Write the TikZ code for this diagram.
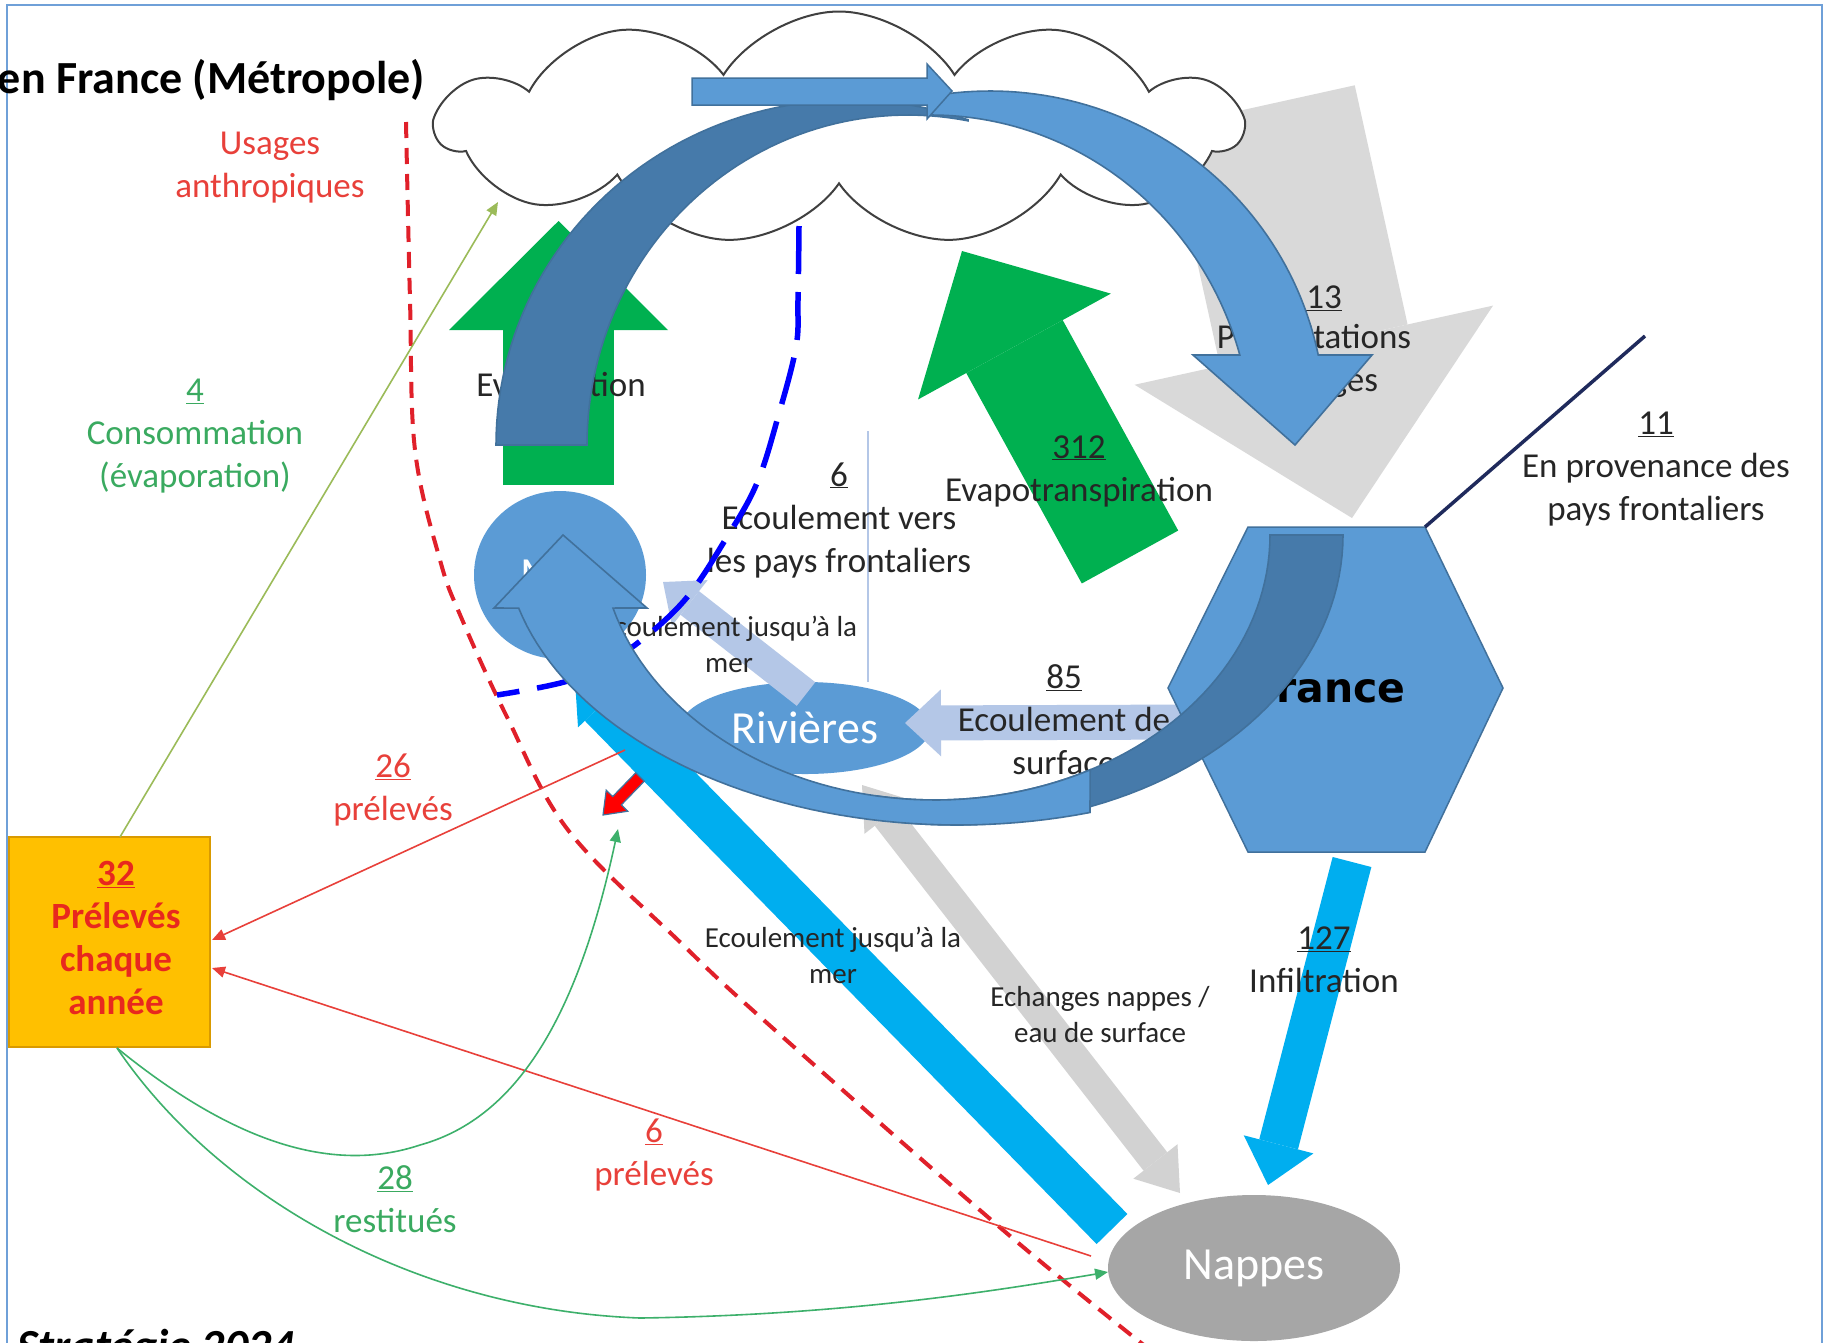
\documentclass[tikz,border=0pt]{standalone}
\usepackage{fontspec}
\setmainfont{Carlito}
\newfontfamily\hexfont{DejaVu Sans}
\usetikzlibrary{arrows.meta,shapes.geometric,shapes.symbols}

\definecolor{pblue}{HTML}{5B9BD5}
\definecolor{pblueline}{HTML}{41719C}
\definecolor{arcdark}{HTML}{467AAA}
\definecolor{cyanflow}{HTML}{00AEEF}
\definecolor{evgreen}{HTML}{00B050}
\definecolor{peri}{HTML}{B4C7E7}
\definecolor{lgray}{HTML}{D9D9D9}
\definecolor{egray}{HTML}{D2D2D2}
\definecolor{ngray}{HTML}{A6A6A6}
\definecolor{gold}{HTML}{FFC000}
\definecolor{goldline}{HTML}{D99A00}
\definecolor{redtxt}{HTML}{E8403A}
\definecolor{reddash}{HTML}{E0202A}
\definecolor{boxred}{HTML}{E8281E}
\definecolor{greentxt}{HTML}{3AAA60}
\definecolor{olive}{HTML}{9BBB59}
\definecolor{restgreen}{HTML}{3DB06B}
\definecolor{txt}{HTML}{262626}
\definecolor{navy}{HTML}{1F2A5C}
\definecolor{framecol}{HTML}{6FA0D8}
\definecolor{dashblue}{HTML}{0000FF}
\definecolor{cloudline}{HTML}{404040}

\tikzset{
  lbl/.style={text=txt, align=center, inner sep=0pt, font=\fontsize{35}{43}\selectfont},
  smalllbl/.style={lbl, font=\fontsize{29}{36}\selectfont},
  redlbl/.style={lbl, text=redtxt},
  greenlbl/.style={lbl, text=greentxt},
  boxtxt/.style={lbl, text=boxred, font=\bfseries\fontsize{37}{43}\selectfont},
  whitelbl/.style={text=white, inner sep=0pt, font=\fontsize{46}{50}\selectfont},
  blockflow/.style n args={3}{line width=#1, -{Triangle[width=#2,length=#3,line width=0pt]}},
  dblflow/.style n args={3}{line width=#1, {Triangle[width=#2,length=#3,line width=0pt]}-{Triangle[width=#2,length=#3,line width=0pt]}},
  thinarrow/.style={line width=1.6pt, -{Triangle[width=11pt,length=13pt]}},
  backpart/.style={fill=arcdark, draw=pblueline, line width=1.6pt},
  frontpart/.style={fill=pblue, draw=pblueline, line width=1.6pt}
}

\begin{document}
\begin{tikzpicture}[x=1pt,y=-1pt]
\useasboundingbox (0,0) rectangle (1827,1342);
\clip (0,0) rectangle (1827,1342);
\fill[white] (0,0) rectangle (1827,1342);
\draw[framecol, line width=2.5pt] (7,5) rectangle (1822,1400);

% precipitation (grey block arrow, partly behind the cloud)
\coordinate (pTop) at (1261,106);
\coordinate (pTip) at (1352,518);
\draw[lgray, blockflow={192pt}{367pt}{177pt}] (pTop) -- (pTip);

% cloud
\node[cloud, draw=cloudline, fill=white, line width=2pt, cloud puffs=11, cloud puff arc=115,
      aspect=3.4, minimum width=804pt, minimum height=233pt, inner sep=0pt] (cloud) at (839,128) {};

% evaporation and evapotranspiration
\coordinate (evBot) at (558.5,485);
\coordinate (evTip) at (558.5,221);
\draw[evgreen, blockflow={111pt}{219pt}{109pt}] (evBot) -- (evTip);
\coordinate (etBot) at (1130,557);
\coordinate (etTip) at (962,251);
\draw[evgreen, blockflow={110pt}{220pt}{109pt}] (etBot) -- (etTip);

% reservoirs
\node[ellipse, fill=pblue, minimum width=172pt, minimum height=168pt, inner sep=0pt, whitelbl] (mer) at (560,575) {Mer};
\node[ellipse, fill=pblue, minimum width=250pt, minimum height=92pt, inner sep=0pt, whitelbl] (riv) at (805,728) {Rivières};
\node[ellipse, fill=ngray, minimum width=292pt, minimum height=146pt, inner sep=0pt, whitelbl] (nappes) at (1254,1268) {Nappes};

% flows between reservoirs
\coordinate (cyBot) at (1112,1229);
\coordinate (cyTip) at (575,680);
\draw[cyanflow, blockflow={43pt}{62pt}{36pt}] (cyBot) -- (cyTip);
\coordinate (inTop) at (1352,862);
\coordinate (inTip) at (1268,1185);
\draw[cyanflow, blockflow={40pt}{72pt}{42pt}] (inTop) -- (inTip);
\coordinate (exTop) at (862,785);
\coordinate (exBot) at (1180,1193);
\draw[egray, dblflow={30pt}{56pt}{40pt}] (exTop) -- (exBot);
\coordinate (sfStart) at (1200,722);
\coordinate (sfTip) at (905,723);
\draw[peri, blockflow={35pt}{67pt}{36pt}] (sfStart) -- (sfTip);
\coordinate (rmStart) at (806,694);
\coordinate (rmTip) at (663,582);
\draw[peri, blockflow={30pt}{58pt}{34pt}] (rmStart) -- (rmTip);

% France hexagon
\draw[fill=pblue, draw=pblueline, line width=1.5pt]
  (1248,527) coordinate (hexTL) -- (1425,527) coordinate (hexTR) -- (1503,688) -- (1425,852)
  -- (1248,852) -- (1168,688) -- cycle;
\node[anchor=base, inner sep=0pt, font=\hexfont\bfseries\fontsize{41}{45}\selectfont, text=black] (france) at (1328,702) {France};

% border lines
\coordinate (navyEnd) at (1645,336);
\draw[navy, line width=3.5pt] (hexTR) -- (navyEnd);
\coordinate (vTop) at (868,431);
\coordinate (vBot) at (868,682);
\draw[peri, line width=2pt] (vTop) -- (vBot);

% abstraction box
\node[rectangle, fill=gold, draw=goldline, line width=1.5pt, minimum width=201pt, minimum height=210pt, inner sep=0pt] (box) at (109.5,942) {};
\node[boxtxt] (boxlbl) at (116,938) {\underline{32}\\Prélevés\\chaque\\année};

% labels
\node[anchor=base east, inner sep=0pt, font=\bfseries\fontsize{46}{50}\selectfont, text=black] (title) at (425,93) {en France (Métropole)};
\node[anchor=base west, inner sep=0pt, font=\bfseries\itshape\fontsize{46}{50}\selectfont, text=black] (source) at (17,1361) {Stratégie 2024};
\node[redlbl] (usages) at (270,168) {Usages\\anthropiques};
\node[greenlbl] (conso) at (195,436) {\underline{4}\\Consommation\\(évaporation)};
\node[redlbl] (p26) at (393,790) {\underline{26}\\prélevés};
\node[redlbl] (p6) at (654,1155) {\underline{6}\\prélevés};
\node[greenlbl] (rest) at (395,1199) {\underline{28}\\restitués};
\node[smalllbl] (merlow) at (833,955) {Ecoulement jusqu’à la\\mer};
\node[smalllbl] (echg) at (1100,1015) {Echanges nappes /\\eau de surface};
\node[lbl] (infil) at (1324,960) {\underline{127}\\Infiltration};
\node[lbl] (evap) at (561,387) {Evaporation};
\node[lbl] (evt) at (1079,471) {\underline{312}\\Evapotranspiration};
\node[lbl] (precipnum) at (1324,298) {\underline{13}};
\node[lbl] (precip) at (1314,361) {Précipitations\\et neiges};
\node[lbl] (front) at (1656,469) {\underline{11}\\En provenance des\\pays frontaliers};
\node[lbl] (surf) at (1064,720) {\underline{85}\\Ecoulement de\\surface};
\node[smalllbl] (merup) at (729,644) {Ecoulement jusqu’à la\\mer};
\node[lbl] (vers) at (839,520) {\underline{6}\\Ecoulement vers\\les pays frontaliers};

% limit of human uses
\draw[reddash, line width=4pt, dash pattern=on 16pt off 10pt]
  plot[smooth, tension=0.6] coordinates {(406,122) (410,300) (415,450) (440,560) (461,617) (507,717) (568,830) (681,943) (767,1023) (1003,1230) (1150,1350)};

% abstractions and returns
\coordinate (consStart) at (120,837);
\coordinate (consEnd) at (498,202);
\draw[olive, thinarrow] (consStart) -- (consEnd);
\coordinate (rivTake) at (625,750);
\coordinate (boxIn1) at (212,940);
\draw[redtxt, thinarrow] (rivTake) -- (boxIn1);
\coordinate (napTake) at (1091,1256);
\coordinate (boxIn2) at (212,968);
\draw[redtxt, thinarrow] (napTake) -- (boxIn2);
\coordinate (boxOut) at (117,1048);
\coordinate (retRiv) at (618,829);
\coordinate (retNap) at (1108,1272);
\draw[restgreen, thinarrow] (boxOut) .. controls (230,1140) and (330,1175) .. (420,1145)
  .. controls (510,1120) and (575,1030) .. (retRiv);
\draw[restgreen, thinarrow] (boxOut) .. controls (220,1200) and (420,1310) .. (640,1318)
  .. controls (850,1315) and (1000,1290) .. (retNap);

% small red arrow
\draw[fill=red, draw=pblueline, line width=1.2pt]
  (635.7,772.8) -- (612.7,796.5) -- (606.2,790.2) -- (603,815) -- (627.8,811.2) -- (621.3,804.9) -- (644.3,781.2) -- cycle;

% dashed blue line
\draw[dashblue, line width=5.5pt, dash pattern=on 48pt off 18pt]
  plot[smooth, tension=0.6] coordinates {(799,226) (798,300) (796,347) (778,417) (757,483) (727,537) (683,602) (624,653) (571,680) (497,695)};

% water cycle: upper curved arrow (back part, then front part with head)
\draw[backpart]
  plot[domain=180:70.5, samples=60, variable=\t] ({850+354*cos(\t)},{445-345*sin(\t)})
  -- plot[domain=79.2:180, samples=60, variable=\t] ({908+321*cos(\t)},{445-330*sin(\t)}) -- cycle;
\draw[frontpart]
  plot[domain=100.3:11.54, samples=60, variable=\t] ({990+335*cos(\t)},{421-330*sin(\t)})
  -- (1372,355) -- (1295,445) -- (1193,355)
  -- plot[domain=15.83:89.8, samples=60, variable=\t] ({931+321*cos(\t)},{445-330*sin(\t)}) -- cycle;

% water cycle: lower curved arrow (back part, then front part with head)
\draw[backpart]
  plot[domain=0:100, samples=50, variable=\t] ({954+389*cos(\t)},{535+290*sin(\t)})
  -- plot[domain=100:0, samples=50, variable=\t] ({935+335*cos(\t)},{535+265*sin(\t)}) -- cycle;
\draw[frontpart]
  plot[domain=165.4:73.1, samples=50, variable=\t] ({958+454*cos(\t)},{535+290*sin(\t)})
  -- plot[domain=62.4:164, samples=50, variable=\t] ({935+335*cos(\t)},{535+265*sin(\t)})
  -- (647,608) -- (563,535) -- (494,608) -- cycle;

% straight arrow over the cloud
\draw[fill=pblue, draw=pblueline, line width=1.5pt]
  (692,78) -- (927,78) -- (927,64) -- (952,91) -- (927,119) -- (927,105) -- (692,105) -- cycle;
\end{tikzpicture}
\end{document}
